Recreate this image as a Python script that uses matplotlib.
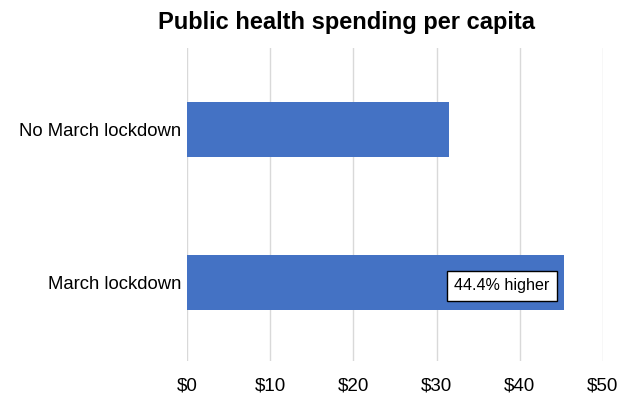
import matplotlib.pyplot as plt

plt.rcParams['font.family'] = ['Liberation Sans', 'DejaVu Sans']

# Data
categories = ['No March lockdown', 'March lockdown']
spending = [31.5, 45.4]
tick_values = [0, 10, 20, 30, 40, 50]
tick_labels = ['$0', '$10', '$20', '$30', '$40', '$50']
note = '44.4% higher'

fig = plt.figure(figsize=(6.35, 3.94), dpi=100)
ax = fig.add_axes([187 / 635, 1 - 361 / 394, (603 - 187) / 635, (361 - 48) / 394])

ypos = list(range(len(categories)))
ax.barh(ypos, spending, height=0.36, color='#4472c4', zorder=2)

ax.set_xlim(-0.06, 50.06)
ax.set_ylim(1.51, -0.53)
ax.set_xticks(tick_values)
ax.set_xticklabels(tick_labels, fontsize=13.5)
ax.set_yticks(ypos)
ax.set_yticklabels(categories, fontsize=13.3)
ax.tick_params(axis='y', length=0, pad=4)
ax.tick_params(axis='x', length=0, pad=12)
ax.grid(axis='x', color='#d9d9d9', linewidth=1, zorder=0)
for s in ax.spines.values():
    s.set_visible(False)

ax.text(37.9, 1.02, note, fontsize=11.6, ha='center', va='center', zorder=3,
        bbox=dict(boxstyle='square,pad=0.45', facecolor='white', edgecolor='black', linewidth=1))

fig.text(0.546, 1 - 22 / 394, 'Public health spending per capita', fontsize=17,
         fontweight='bold', ha='center', va='center')

fig.savefig('out.png', dpi=100)
